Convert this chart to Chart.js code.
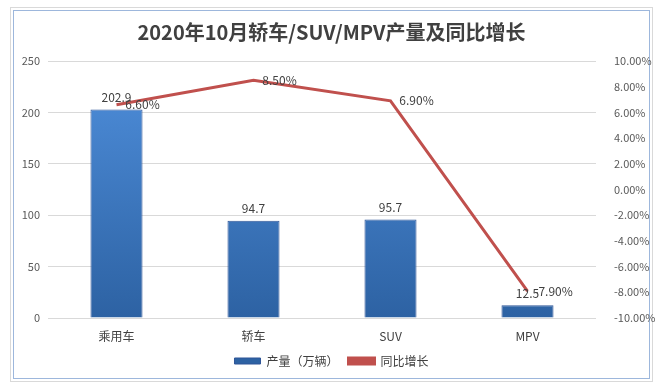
<!DOCTYPE html>
<html>
<head>
<meta charset="utf-8">
<script src="https://cdn.jsdelivr.net/npm/chart.js@4"></script>
<style>
  html, body { margin: 0; padding: 0; background: #fff; }
  #wrap { position: relative; width: 663px; height: 387px; }
  #outer { position: absolute; left: 10px; top: 7px; width: 641px; height: 373px; border: 1px solid #d9d9d9; }
  #inner { position: absolute; left: 13px; top: 10px; width: 635px; height: 367px; border: 1px solid #9db7dc; }
  canvas { position: absolute; left: 0; top: 0; }
</style>
</head>
<body>
<div id="wrap">
  <div id="outer"></div>
  <div id="inner"></div>
  <canvas id="chart" width="663" height="387"></canvas>
</div>
<script>
const categories = ['乘用车', '轿车', 'SUV', 'MPV'];
const output = [202.9, 94.7, 95.7, 12.5];
const growth = [6.6, 8.5, 6.9, -7.9];

const ctx = document.getElementById('chart').getContext('2d');
const font = '"Noto Sans CJK SC", "Noto Sans", sans-serif';

function barFill(c) {
    const area = c.chart.chartArea;
    if (!area) return '#3d7cc9';
    const g = c.chart.ctx.createLinearGradient(0, area.top, 0, area.bottom);
    g.addColorStop(0, '#4f8fdc');
    g.addColorStop(1, '#2d62a3');
    return g;
}

// value labels like Excel data labels
const labelPlugin = {
    id: 'labels',
    afterDatasetsDraw(chart) {
        const c = chart.ctx;
        c.save();
        c.font = '12px ' + font;
        c.fillStyle = '#404040';
        c.textAlign = 'center';
        c.textBaseline = 'middle';
        chart.getDatasetMeta(0).data.forEach((bar, i) => {
            c.fillText(output[i].toFixed(1), bar.x, bar.y - 12);
        });
        chart.getDatasetMeta(1).data.forEach((pt, i) => {
            c.fillText(growth[i].toFixed(2) + '%', pt.x + 26, pt.y);
        });
        c.restore();
    }
};

new Chart(ctx, {
    type: 'bar',
    data: {
        labels: categories,
        datasets: [{
            type: 'bar',
            label: '产量（万辆）',
            data: output,
            backgroundColor: barFill,
            borderColor: '#2f5597',
            borderWidth: 1,
            categoryPercentage: 1,
            barPercentage: 0.38,
            yAxisID: 'y',
            order: 1
        }, {
            type: 'line',
            label: '同比增长',
            data: growth,
            borderColor: '#c0504d',
            backgroundColor: '#c0504d',
            borderWidth: 3,
            pointRadius: 0,
            tension: 0,
            yAxisID: 'y1',
            order: 0
        }]
    },
    options: {
        responsive: false,
        animation: false,
        layout: { padding: { left: 0, right: 0, top: 0, bottom: 10 } },
        scales: {
            x: {
                grid: { display: false },
                border: { display: false },
                ticks: { font: { size: 12, family: font }, color: '#404040' },
                afterFit(s) { s.height = 27; }
            },
            y: {
                min: 0,
                max: 250,
                ticks: { stepSize: 50, font: { size: 11, family: font }, color: '#595959', padding: 8 },
                grid: { color: '#d9d9d9', drawTicks: false },
                border: { display: false },
                afterFit(s) { s.width = 48; }
            },
            y1: {
                position: 'right',
                min: -10,
                max: 10,
                ticks: {
                    stepSize: 2,
                    font: { size: 11, family: font },
                    color: '#595959',
                    padding: 10,
                    callback: v => v.toFixed(2) + '%'
                },
                grid: { display: false },
                border: { display: false },
                afterFit(s) { s.width = 67; }
            }
        },
        plugins: {
            title: {
                display: true,
                text: '2020年10月轿车/SUV/MPV产量及同比增长',
                font: { size: 20, weight: 'bold', family: font },
                color: '#404040',
                padding: { top: 20, bottom: 17 }
            },
            legend: {
                position: 'bottom',
                labels: {
                    boxWidth: 26,
                    boxHeight: 6,
                    font: { size: 12, family: font },
                    color: '#404040',
                    padding: 10,
                    sort: (a, b) => a.datasetIndex - b.datasetIndex
                }
            },
            tooltip: { enabled: false }
        }
    },
    plugins: [labelPlugin]
});
</script>
</body>
</html>
